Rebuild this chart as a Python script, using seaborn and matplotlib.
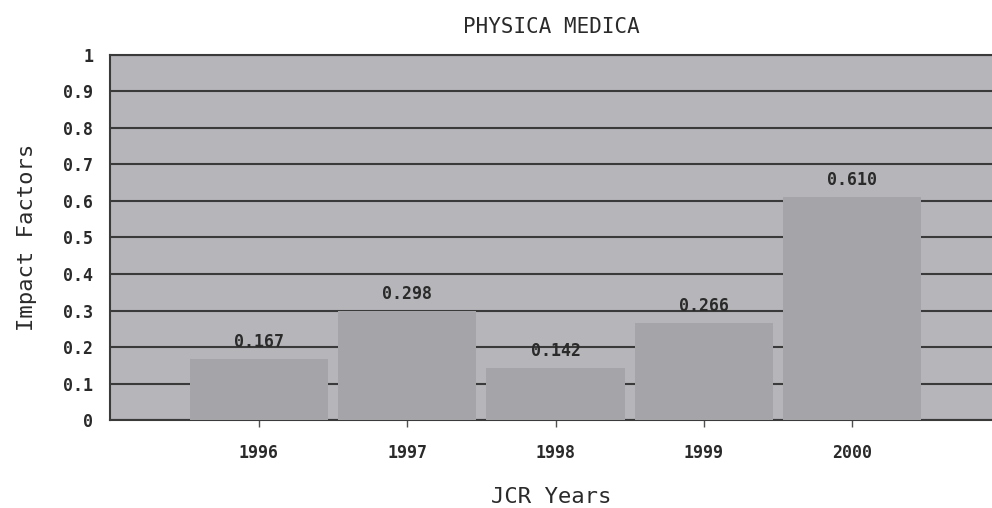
import numpy as np
import matplotlib
matplotlib.use('Agg')
import matplotlib.pyplot as plt
import seaborn as sns
import pandas as pd
from matplotlib.ticker import FuncFormatter

years = ['1996', '1997', '1998', '1999', '2000']
impact = [0.167, 0.298, 0.142, 0.266, 0.610]
labels = ['0.167', '0.298', '0.142', '0.266', '0.610']

sns.set_style('white')
plt.rcParams['font.family'] = ['DejaVu Sans Mono', 'DejaVu Sans']

df = pd.DataFrame({'year': years, 'impact': impact})

fig = plt.figure(figsize=(9.92, 5.08), dpi=100)
ax = fig.add_axes([0.111, 0.173, 0.889, 0.719])
ax.set_facecolor('#b6b6ba')

sns.barplot(data=df, x='year', y='impact', color='#a5a5a9', saturation=1,
            width=0.93, ax=ax, zorder=3, linewidth=0)

for i, (v, t) in enumerate(zip(impact, labels)):
    ax.text(i, v + 0.022, t, ha='center', va='bottom', fontsize=12,
            fontweight='bold', color='#2a2a2a', zorder=4)

ax.set_ylim(0, 1)
ax.set_xlim(-1, 4.94)
ax.set_yticks(np.arange(0, 1.01, 0.1))
ax.yaxis.set_major_formatter(FuncFormatter(lambda v, p: '0' if v == 0 else ('1' if abs(v - 1) < 1e-9 else f'{v:.1f}')))
ax.yaxis.grid(True, color='#3a3a3a', linewidth=1.5, zorder=1)
ax.set_axisbelow(True)

ax.tick_params(axis='y', length=0, labelsize=12, pad=12, labelcolor='#2a2a2a')
ax.tick_params(axis='x', length=5, width=1, color='#505050', labelsize=12,
               pad=12, labelcolor='#2a2a2a', bottom=True)
for lab in ax.get_xticklabels() + ax.get_yticklabels():
    lab.set_fontweight('bold')

for s in ['left', 'bottom', 'top']:
    ax.spines[s].set_color('#3a3a3a')
    ax.spines[s].set_linewidth(1.5)
ax.spines['right'].set_visible(False)

ax.set_xlabel('JCR Years', fontsize=16, color='#2a2a2a', labelpad=18)
ax.set_ylabel('Impact Factors', fontsize=16, color='#2a2a2a', labelpad=19)
ax.set_title('PHYSICA MEDICA', fontsize=15, color='#2a2a2a', pad=16)

fig.savefig('out.png', dpi=100)
